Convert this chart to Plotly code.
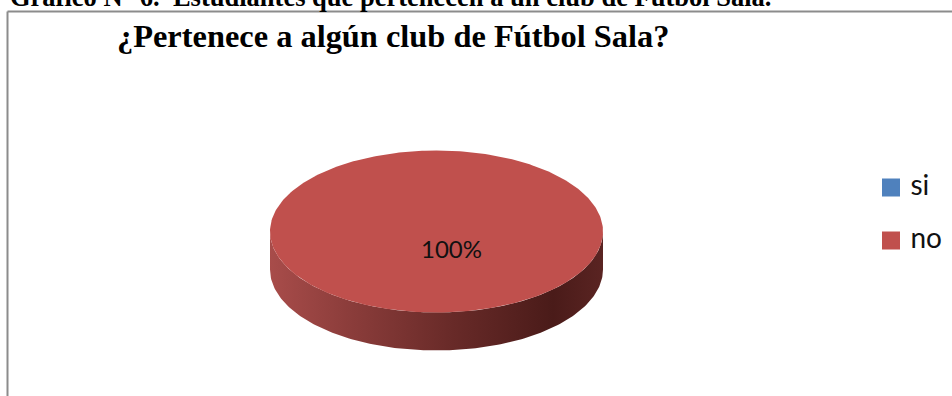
import numpy as np
import plotly.graph_objects as go

categories = ["si", "no"]
values = [0, 100]
slice_colors = ["#4F81BD", "#C0504D"]
wall_stops = [
    [0.0, "#A84C4A"],
    [0.25, "#8A3C3A"],
    [0.55, "#682A28"],
    [0.85, "#4A1B19"],
    [1.0, "#5A2422"],
]
chart_title = "¿Pertenece a algún club de Fútbol Sala?"
heading = "Gráfico N° 6.\u00a0\u00a0Estudiantes que pertenecen a un club de Fútbol Sala."

# Ellipse geometry of the tilted pie, in page pixels
CX, CY, RX, RY, DEPTH = 436.5, 231.5, 166.5, 81, 38

total = sum(values)
fig = go.Figure()


def arc(start, stop, steps=180):
    t = np.radians(np.linspace(start, stop, steps))
    return CX + RX * np.sin(t), CY - RY * np.cos(t)


# Visible outer wall below the rim, only for slices that reach the front half
angle = 0.0
for name, value in zip(categories, values):
    sweep = 360.0 * value / total
    lo, hi = max(angle, 90.0), min(angle + sweep, 270.0)
    if hi > lo:
        x, y = arc(lo, hi)
        fig.add_trace(go.Scatter(
            x=np.r_[x, x[::-1]], y=np.r_[y, y[::-1] + DEPTH],
            mode="lines", line=dict(width=0), fill="toself",
            fillgradient=dict(type="horizontal", colorscale=wall_stops),
            hoverinfo="skip", showlegend=False,
        ))
    angle += sweep

# Top faces of the slices
angle = 0.0
for name, value, color in zip(categories, values, slice_colors):
    sweep = 360.0 * value / total
    if sweep > 0:
        x, y = arc(angle, angle + sweep, 361)
        if sweep < 360:
            x, y = np.r_[CX, x, CX], np.r_[CY, y, CY]
        fig.add_trace(go.Scatter(
            x=x, y=y, mode="lines", line=dict(width=0, color=color),
            fill="toself", fillcolor=color, name=name, showlegend=False,
        ))
    angle += sweep

# Key on the right-hand side
fig.add_trace(go.Scatter(
    x=[891, 891], y=[187.5, 240.5], mode="markers+text",
    marker=dict(symbol="square", size=18, color=slice_colors),
    text=["\u00a0" + c for c in categories], textposition="middle right",
    textfont=dict(family="Lato, Carlito, sans-serif", size=28, color="#111111"),
    cliponaxis=False, showlegend=False,
))

# Frame around the chart: top and left edges
frame = dict(color="#8C8C8C", width=2)
fig.add_shape(type="line", x0=7.5, x1=952, y0=11.5, y1=11.5, line=frame)
fig.add_shape(type="line", x0=7.5, x1=7.5, y0=11.5, y1=396, line=frame)

fig.add_annotation(
    x=8, y=14.5, xanchor="left", yanchor="bottom", showarrow=False,
    text=f"<b>{heading}</b>",
    font=dict(family="Liberation Serif, serif", size=26.5, color="#000000"),
)
fig.add_annotation(
    x=392.5, y=35.5, xanchor="center", yanchor="middle", showarrow=False,
    text=f"<b>{chart_title}</b>",
    font=dict(family="Liberation Serif, serif", size=32.4, color="#000000"),
)

# Share label on the largest slice
fig.add_annotation(
    x=451, y=248.5, xanchor="center", yanchor="middle", showarrow=False,
    text=f"{100 * max(values) / total:.0f}%",
    font=dict(family="Lato, Carlito, sans-serif", size=24, color="#111111"),
)

fig.update_layout(
    width=952, height=396, margin=dict(l=0, r=0, t=0, b=0),
    paper_bgcolor="white", plot_bgcolor="white", showlegend=False,
    xaxis=dict(range=[0, 952], visible=False, fixedrange=True),
    yaxis=dict(range=[396, 0], visible=False, fixedrange=True),
)
fig.write_html("out.html", config={"displayModeBar": False})
